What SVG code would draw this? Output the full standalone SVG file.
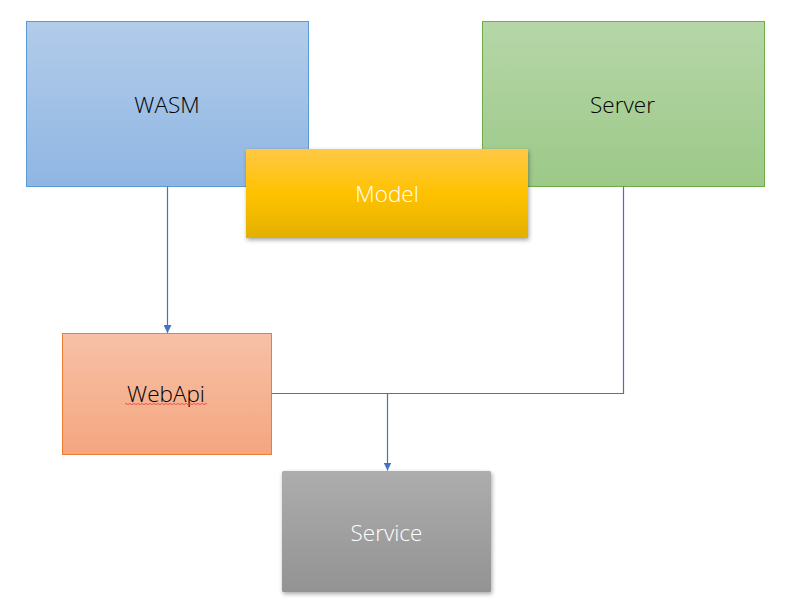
<svg xmlns="http://www.w3.org/2000/svg" width="790" height="614" viewBox="0 0 790 614">
<defs>
<linearGradient id="gBlue" x1="0" y1="0" x2="0" y2="1"><stop offset="0" stop-color="#B2CCEA"/><stop offset="1" stop-color="#8FB6E3"/></linearGradient>
<linearGradient id="gGreen" x1="0" y1="0" x2="0" y2="1"><stop offset="0" stop-color="#B6D6A8"/><stop offset="1" stop-color="#9CC988"/></linearGradient>
<linearGradient id="gGold" x1="0" y1="0" x2="0" y2="1"><stop offset="0" stop-color="#FFC845"/><stop offset="0.5" stop-color="#FFC200"/><stop offset="1" stop-color="#E3B000"/></linearGradient>
<linearGradient id="gOrange" x1="0" y1="0" x2="0" y2="1"><stop offset="0" stop-color="#F7C1A7"/><stop offset="1" stop-color="#F4A67F"/></linearGradient>
<linearGradient id="gGray" x1="0" y1="0" x2="0" y2="1"><stop offset="0" stop-color="#ADADAD"/><stop offset="1" stop-color="#939393"/></linearGradient>
<filter id="shadow" x="-10%" y="-10%" width="120%" height="130%"><feDropShadow dx="1" dy="2" stdDeviation="2" flood-color="#000" flood-opacity="0.35"/></filter>
<marker id="arrow" viewBox="0 0 10 10" refX="10" refY="5" markerWidth="8" markerHeight="8" markerUnits="userSpaceOnUse" orient="auto"><path d="M0,0 L10,5 L0,10 Z" fill="#4472C4"/></marker>
<style>
.lbl{font-family:"Open Sans","Noto Sans","Liberation Sans",sans-serif;font-size:22.5px;font-weight:350;text-anchor:middle}
.dark{fill:#000}
.light{fill:#fff}
.conn{fill:none;stroke:#4472C4;stroke-width:1.2}
</style>
</defs>
<g id="WASM"><rect x="26.5" y="21.5" width="282" height="165" fill="url(#gBlue)" stroke="#5B9BD5" stroke-width="1"/><text class="lbl dark" x="167" y="112.5">WASM</text></g>
<g id="Server"><rect x="482.5" y="21.5" width="282" height="165" fill="url(#gGreen)" stroke="#70AD47" stroke-width="1"/><text class="lbl dark" x="622.5" y="112.5">Server</text></g>
<g id="connectors">
<path class="conn" d="M167.5,186.5 V333" marker-end="url(#arrow)"/>
<path class="conn" d="M623.5,186.5 V393.5 H272"/>
<path class="conn" d="M387.5,393.5 V470.5" marker-end="url(#arrow)"/>
</g>
<g id="Model"><rect x="246" y="149" width="282" height="89" fill="url(#gGold)" filter="url(#shadow)"/><text class="lbl light" x="387" y="202">Model</text></g>
<g id="WebApi"><rect x="62.5" y="333.5" width="209" height="121" fill="url(#gOrange)" stroke="#ED7D31" stroke-width="1"/><text class="lbl dark" x="166" y="402">WebApi</text><path d="M125,404 q1,-1.2 2,0 t2,0 t2,0 t2,0 t2,0 t2,0 t2,0 t2,0 t2,0 t2,0 t2,0 t2,0 t2,0 t2,0 t2,0 t2,0 t2,0 t2,0 t2,0 t2,0 t2,0 t2,0 t2,0 t2,0 t2,0 t2,0 t2,0 t2,0 t2,0 t2,0 t2,0 t2,0 t2,0 t2,0 t2,0 t2,0 t2,0 t2,0 t2,0 t2,0 t2,0" fill="none" stroke="#E84C4C" stroke-width="0.9"/></g>
<g id="Service"><rect x="282" y="471" width="209" height="121" rx="1.5" fill="url(#gGray)" filter="url(#shadow)"/><text class="lbl light" x="386.5" y="540.5">Service</text></g>
</svg>
